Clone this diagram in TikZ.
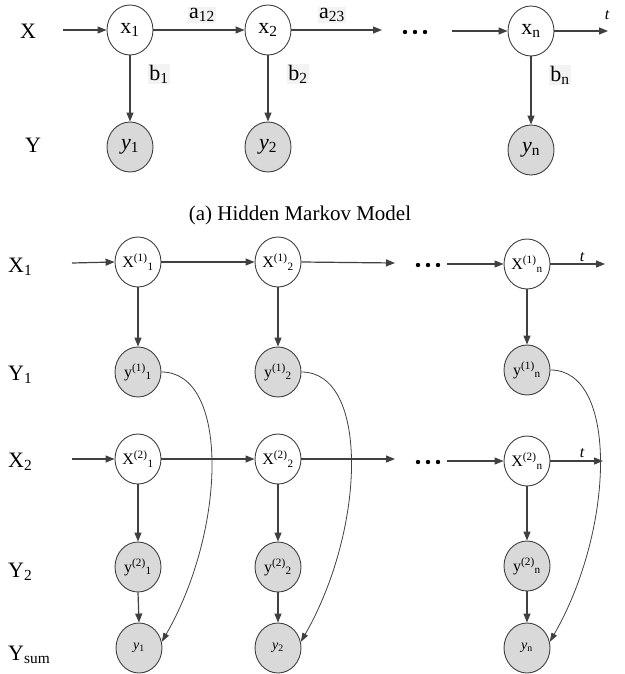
\documentclass[tikz,border=0pt]{standalone}
\usepackage{fontspec}
\setmainfont{Liberation Serif}
\usetikzlibrary{shapes.geometric,arrows.meta}
\definecolor{ln}{RGB}{64,64,64}
\definecolor{obs}{RGB}{217,217,217}
\definecolor{lblbg}{RGB}{243,243,243}
\tikzset{
  hid/.style={ellipse, draw=ln, line width=0.9pt, fill=white, minimum width=46pt, minimum height=50pt, inner sep=0pt},
  obsn/.style={hid, fill=obs},
  topfont/.style={font=\fontsize{22}{24}\selectfont},
  botfont/.style={font=\fontsize{16}{18}\selectfont},
  sumfont/.style={font=\fontsize{14}{16}\selectfont},
  arr/.style={draw=ln, line width=1.2pt, -{Triangle[length=9pt,width=7pt]}},
  curvearr/.style={draw=ln, line width=0.8pt, -{Triangle[length=9pt,width=6pt]}},
  rowlbl/.style={anchor=base west, inner sep=0pt, font=\fontsize{22}{24}\selectfont},
  elbl/.style={fill=lblbg, inner sep=1pt, font=\fontsize{22}{24}\selectfont},
  tlbl/.style={font=\fontsize{16}{18}\selectfont\itshape, inner sep=0pt},
  dotc/.style={fill=black}
}
\begin{document}
\begin{tikzpicture}[x=1pt,y=-1pt]
\useasboundingbox (0,0) rectangle (624,674);

% ---------- (a) HMM ----------
\node[rowlbl] (lX) at (20,39) {X};
\node[rowlbl] (lY) at (25,152) {Y};

\node[hid,topfont] (x1) at (130,30) {x\textsubscript{1}};
\node[hid,topfont] (x2) at (268,30) {x\textsubscript{2}};
\node[hid,topfont] (xn) at (531,31) {x\textsubscript{n}};
\node[obsn,topfont] (y1) at (130,147) {\textit{y}\textsubscript{1}};
\node[obsn,topfont] (y2) at (268,147) {\textit{y}\textsubscript{2}};
\node[obsn,topfont] (yn) at (531,150) {\textit{y}\textsubscript{n}};

\coordinate (xin) at (63,30);
\coordinate (x2out) at (382,30);
\coordinate (xnin) at (452,31);
\coordinate (xnout) at (608,31);

\draw[arr] (xin) -- (x1.west);
\draw[arr] (x1.east) -- (x2.west);
\draw[arr] (x2.east) -- (x2out);
\draw[arr] (xnin) -- (xn.west);
\draw[arr] (xn.east) -- (xnout);
\draw[arr] (x1.south) -- (y1.north);
\draw[arr] (x2.south) -- (y2.north);
\draw[arr] (xn.south) -- (yn.north);

\node[elbl] (a12) at (202,15) {a\textsubscript{12}};
\node[elbl] (a23) at (332,15) {a\textsubscript{23}};
\node[elbl] (b1) at (159,74) {b\textsubscript{1}};
\node[elbl] (b2) at (298,74) {b\textsubscript{2}};
\node[elbl] (bn) at (560,75) {b\textsubscript{n}};
\node[tlbl] (t0) at (607,15) {t};

\fill (405,32) circle (2.2pt) (415,32) circle (2.2pt) (425,32) circle (2.2pt);

\node[font=\fontsize{21}{23}\selectfont, inner sep=0pt] (cap) at (300,215) {(a) Hidden Markov Model};

% ---------- factorial HMM ----------
\node[rowlbl] (lX1) at (8,272) {X\textsubscript{1}};
\node[rowlbl] (lY1) at (8,380) {Y\textsubscript{1}};
\node[rowlbl] (lX2) at (8,467) {X\textsubscript{2}};
\node[rowlbl] (lY2) at (8,577) {Y\textsubscript{2}};
\node[rowlbl] (lYs) at (8,660) {Y\textsubscript{sum}};

\node[hid,botfont] (p11) at (138,262) {X\textsuperscript{(1)}\textsubscript{1}};
\node[hid,botfont] (p12) at (278,262) {X\textsuperscript{(1)}\textsubscript{2}};
\node[hid,botfont] (p1n) at (527,264) {X\textsuperscript{(1)}\textsubscript{n}};
\node[obsn,botfont] (o11) at (138,372) {y\textsuperscript{(1)}\textsubscript{1}};
\node[obsn,botfont] (o12) at (278,372) {y\textsuperscript{(1)}\textsubscript{2}};
\node[obsn,botfont] (o1n) at (527,370) {y\textsuperscript{(1)}\textsubscript{n}};

\node[hid,botfont] (p21) at (138,459) {X\textsuperscript{(2)}\textsubscript{1}};
\node[hid,botfont] (p22) at (278,459) {X\textsuperscript{(2)}\textsubscript{2}};
\node[hid,botfont] (p2n) at (527,461) {X\textsuperscript{(2)}\textsubscript{n}};
\node[obsn,botfont] (o21) at (138,567) {y\textsuperscript{(2)}\textsubscript{1}};
\node[obsn,botfont] (o22) at (278,567) {y\textsuperscript{(2)}\textsubscript{2}};
\node[obsn,botfont] (o2n) at (527,566) {y\textsuperscript{(2)}\textsubscript{n}};

\node[obsn,sumfont] (s1) at (139,648) {\textit{y}\textsubscript{1}};
\node[obsn,sumfont] (s2) at (278,648) {\textit{y}\textsubscript{2}};
\node[obsn,sumfont] (sn) at (527,648) {\textit{y}\textsubscript{n}};

\coordinate (in1) at (72,263);
\coordinate (out12) at (395,263);
\coordinate (in1n) at (447,264);
\coordinate (out1n) at (605,264);
\coordinate (in2) at (72,459);
\coordinate (out22) at (395,459);
\coordinate (in2n) at (447,461);
\coordinate (out2n) at (603,461);

\draw[arr] (in1) -- (p11.west);
\draw[arr] (p11.east) -- (p12.west);
\draw[arr] (p12.east) -- (out12);
\draw[arr] (in1n) -- (p1n.west);
\draw[arr] (p1n.east) -- (out1n);
\draw[arr] (in2) -- (p21.west);
\draw[arr] (p21.east) -- (p22.west);
\draw[arr] (p22.east) -- (out22);
\draw[arr] (in2n) -- (p2n.west);
\draw[arr] (p2n.east) -- (out2n);

\node[tlbl] (t1) at (582,257) {t};
\node[tlbl] (t2) at (582,453) {t};

\fill (418,265) circle (2.2pt) (428,265) circle (2.2pt) (438,265) circle (2.2pt);
\fill (418,462) circle (2.2pt) (428,462) circle (2.2pt) (438,462) circle (2.2pt);

\foreach \c in {1,2,n}{
  \draw[arr] (p1\c.south) -- (o1\c.north);
  \draw[arr] (p2\c.south) -- (o2\c.north);
  \draw[arr] (o2\c.south) -- (s\c.north);
}
\draw[curvearr] (o11.east) .. controls +(68,0) and +(65,-113) .. (s1.15);
\draw[curvearr] (o12.east) .. controls +(68,0) and +(65,-113) .. (s2.15);
\draw[curvearr] (o1n.east) .. controls +(68,0) and +(65,-113) .. (sn.15);
\end{tikzpicture}
\end{document}
